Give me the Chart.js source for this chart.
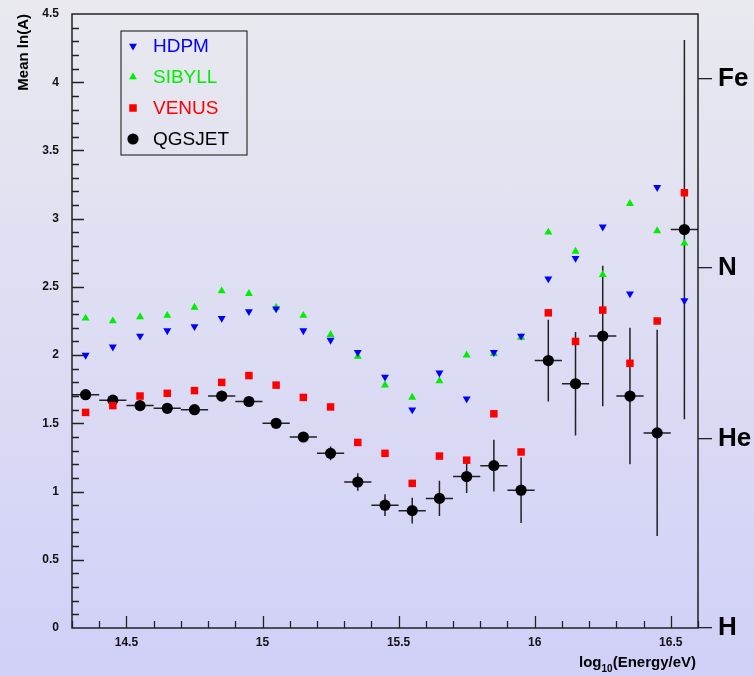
<!DOCTYPE html>
<html>
<head>
<meta charset="utf-8">
<script src="https://cdn.jsdelivr.net/npm/chart.js@4.4.1/dist/chart.umd.min.js"></script>
<style>
  html, body { margin: 0; padding: 0; }
  body { width: 754px; height: 676px; background: linear-gradient(to bottom, #e9e9ef 0%, #d0d0f8 100%); overflow: hidden; }
</style>
</head>
<body>
<canvas id="lnA" width="754" height="676"></canvas>
<script>
// log10(E/eV) bin centres
const energy = [14.35, 14.45, 14.55, 14.65, 14.75, 14.85, 14.95, 15.05, 15.15, 15.25, 15.35, 15.45,
                15.55, 15.65, 15.75, 15.85, 15.95, 16.05, 16.15, 16.25, 16.35, 16.45, 16.55];

// mean ln(A) for each interaction model
const hdpm   = [2.00, 2.06, 2.14, 2.18, 2.21, 2.27, 2.32, 2.34, 2.18, 2.11, 2.02, 1.84,
                1.60, 1.87, 1.68, 2.02, 2.14, 2.56, 2.71, 2.94, 2.45, 3.23, 2.40];
const sibyll = [2.27, 2.25, 2.28, 2.29, 2.35, 2.47, 2.45, 2.35, 2.29, 2.15, 1.99, 1.78,
                1.69, 1.81, 2.00, 2.01, 2.13, 2.90, 2.76, 2.59, 3.11, 2.91, 2.82];
const venus  = [1.58, 1.63, 1.70, 1.72, 1.74, 1.80, 1.85, 1.78, 1.69, 1.62, 1.36, 1.28,
                1.06, 1.26, 1.23, 1.57, 1.29, 2.31, 2.10, 2.33, 1.94, 2.25, 3.19];
const qgsjet = [1.71, 1.67, 1.63, 1.61, 1.60, 1.70, 1.66, 1.50, 1.40, 1.28, 1.07, 0.90,
                0.86, 0.95, 1.11, 1.19, 1.01, 1.96, 1.79, 2.14, 1.70, 1.43, 2.92];
const qgsjetErr = [0.03, 0.03, 0.03, 0.03, 0.03, 0.03, 0.03, 0.03, 0.03, 0.05, 0.065, 0.08,
                   0.095, 0.13, 0.12, 0.19, 0.24, 0.30, 0.38, 0.515, 0.50, 0.755, 1.39];
const binHalfWidth = 0.05;

const xTicks = [14.5, 15, 15.5, 16, 16.5];
const yMin = 0, yMax = 4.5;

// reference nuclei on the right-hand axis
const nuclei = ['H', 'He', 'N', 'Fe'];
const nucleiA = [1, 4, 14, 56];

const pts = (vals) => energy.map((e, i) => ({ x: e, y: vals[i] }));
const plain = (v) => String(+(+v).toFixed(2));

const FONT = '"Liberation Sans", Arial, Helvetica, sans-serif';

// fixed axis sizes, no extra room for overhanging labels
const fixWidth = (w) => (s) => { s.width = w; s.paddingTop = 0; s.paddingBottom = 0; };

// inward ticks and the box around the plot
const frameTicks = {
  id: 'frameTicks',
  beforeDatasetsDraw(chart) {
    const { ctx, chartArea: a, scales: { x, y } } = chart;
    ctx.save();
    ctx.strokeStyle = '#222';
    ctx.lineWidth = 1.3;
    ctx.beginPath();
    for (let k = 143; k <= 166; k++) {
      const px = Math.round(x.getPixelForValue(k / 10)) + 0.5;
      const len = k % 5 === 0 ? 12 : 7;
      ctx.moveTo(px, a.bottom);
      ctx.lineTo(px, a.bottom - len);
    }
    for (let k = 1; k < 45; k++) {
      const py = Math.round(y.getPixelForValue(k / 10)) + 0.5;
      const len = k % 5 === 0 ? 12 : 7;
      ctx.moveTo(a.left, py);
      ctx.lineTo(a.left + len, py);
    }
    ctx.stroke();
    ctx.lineWidth = 1.5;
    ctx.strokeRect(a.left, a.top, a.right - a.left, a.bottom - a.top);
    ctx.restore();
  }
};

// error bars for the QGSJET points
const errorBars = {
  id: 'errorBars',
  beforeDatasetsDraw(chart) {
    const { ctx, scales: { x, y } } = chart;
    ctx.save();
    ctx.strokeStyle = 'rgba(0,0,0,0.85)';
    ctx.lineWidth = 1.5;
    ctx.beginPath();
    energy.forEach((e, i) => {
      const px = x.getPixelForValue(e);
      const py = y.getPixelForValue(qgsjet[i]);
      ctx.moveTo(x.getPixelForValue(e - binHalfWidth), py);
      ctx.lineTo(x.getPixelForValue(e + binHalfWidth), py);
      ctx.moveTo(px, y.getPixelForValue(qgsjet[i] - qgsjetErr[i]));
      ctx.lineTo(px, y.getPixelForValue(qgsjet[i] + qgsjetErr[i]));
    });
    ctx.stroke();
    ctx.restore();
  }
};

// boxed legend inside the plot and the x axis title
const overlay = {
  id: 'overlay',
  afterDraw(chart) {
    const { ctx, chartArea: a } = chart;
    ctx.save();
    const bx = a.left + 49, by = a.top + 17, bw = 126, bh = 124;
    ctx.strokeStyle = '#333';
    ctx.lineWidth = 1.2;
    ctx.strokeRect(bx, by, bw, bh);
    ctx.font = '19px ' + FONT;
    ctx.textBaseline = 'middle';
    chart.data.datasets.forEach((ds, i) => {
      const cy = by + 15 + i * 31;
      ctx.fillStyle = ds.backgroundColor;
      ctx.strokeStyle = ds.backgroundColor;
      Chart.helpers.drawPoint(ctx, {
        pointStyle: ds.pointStyle, rotation: ds.rotation || 0,
        radius: ds.pointRadius, borderWidth: 0
      }, bx + 12, cy);
      ctx.fillStyle = ds.labelColor;
      ctx.fillText(ds.label, bx + 32, cy + 1);
    });

    // log10(Energy/eV)
    ctx.fillStyle = '#000';
    ctx.textBaseline = 'alphabetic';
    const big = 'bold 15px ' + FONT, small = 'bold 10px ' + FONT;
    ctx.font = big;
    const wLog = ctx.measureText('log').width;
    const wTail = ctx.measureText('(Energy/eV)').width;
    ctx.font = small;
    const wSub = ctx.measureText('10').width;
    const x0 = a.right - 2 - (wLog + wSub + wTail), base = 667;
    ctx.font = big;
    ctx.fillText('log', x0, base);
    ctx.font = small;
    ctx.fillText('10', x0 + wLog, base + 5);
    ctx.font = big;
    ctx.fillText('(Energy/eV)', x0 + wLog + wSub, base);
    ctx.restore();
  }
};

new Chart(document.getElementById('lnA'), {
  type: 'scatter',
  data: {
    datasets: [
      { label: 'HDPM', data: pts(hdpm), pointStyle: 'triangle', rotation: 180, pointRadius: 4.6,
        backgroundColor: '#0000ff', labelColor: '#0000ff', borderWidth: 0 },
      { label: 'SIBYLL', data: pts(sibyll), pointStyle: 'triangle', pointRadius: 4.6,
        backgroundColor: '#00ee00', labelColor: '#00ee00', borderWidth: 0 },
      { label: 'VENUS', data: pts(venus), pointStyle: 'rect', pointRadius: 5.3,
        backgroundColor: '#ff0000', labelColor: '#ff0000', borderWidth: 0 },
      { label: 'QGSJET', data: pts(qgsjet), pointStyle: 'circle', pointRadius: 5.6,
        backgroundColor: '#000000', labelColor: '#000000', borderWidth: 0 }
    ]
  },
  options: {
    responsive: false,
    animation: false,
    layout: { padding: { top: 14, left: 0, right: 0, bottom: 0 } },
    plugins: { legend: { display: false }, tooltip: { enabled: false } },
    elements: { point: { hoverRadius: 5 } },
    scales: {
      x: {
        type: 'linear', min: 14.3, max: 16.6,
        afterBuildTicks: (s) => { s.ticks = xTicks.map(v => ({ value: v })); },
        afterFit: (s) => { s.height = 48; s.paddingLeft = 0; s.paddingRight = 0; },
        grid: { display: false, drawTicks: false },
        border: { display: false },
        ticks: { color: '#111', padding: 7, callback: plain,
                 font: { family: FONT, size: 12, weight: 'bold' } }
      },
      y: {
        position: 'left', min: yMin, max: yMax,
        afterFit: fixWidth(72),
        grid: { display: false, drawTicks: false },
        border: { display: false },
        ticks: { stepSize: 0.5, color: '#111', padding: 13, callback: plain,
                 font: { family: FONT, size: 12, weight: 'bold' } },
        title: { display: true, text: 'Mean ln(A)', align: 'end', color: '#000',
                 padding: { top: 15, bottom: 0 }, font: { family: FONT, size: 15, weight: 'bold' } }
      },
      y2: {
        position: 'right', min: yMin, max: yMax,
        afterBuildTicks: (s) => { s.ticks = nucleiA.map(A => ({ value: Math.log(A) })); },
        afterFit: fixWidth(56),
        grid: { drawOnChartArea: false, drawTicks: true, tickLength: 14, color: '#222', lineWidth: 1.3 },
        border: { display: false },
        ticks: {
          color: '#000', padding: 6, font: { family: FONT, size: 26, weight: 'bold' },
          callback: (v, i) => nuclei[i]
        }
      }
    }
  },
  plugins: [frameTicks, errorBars, overlay]
});
</script>
</body>
</html>
